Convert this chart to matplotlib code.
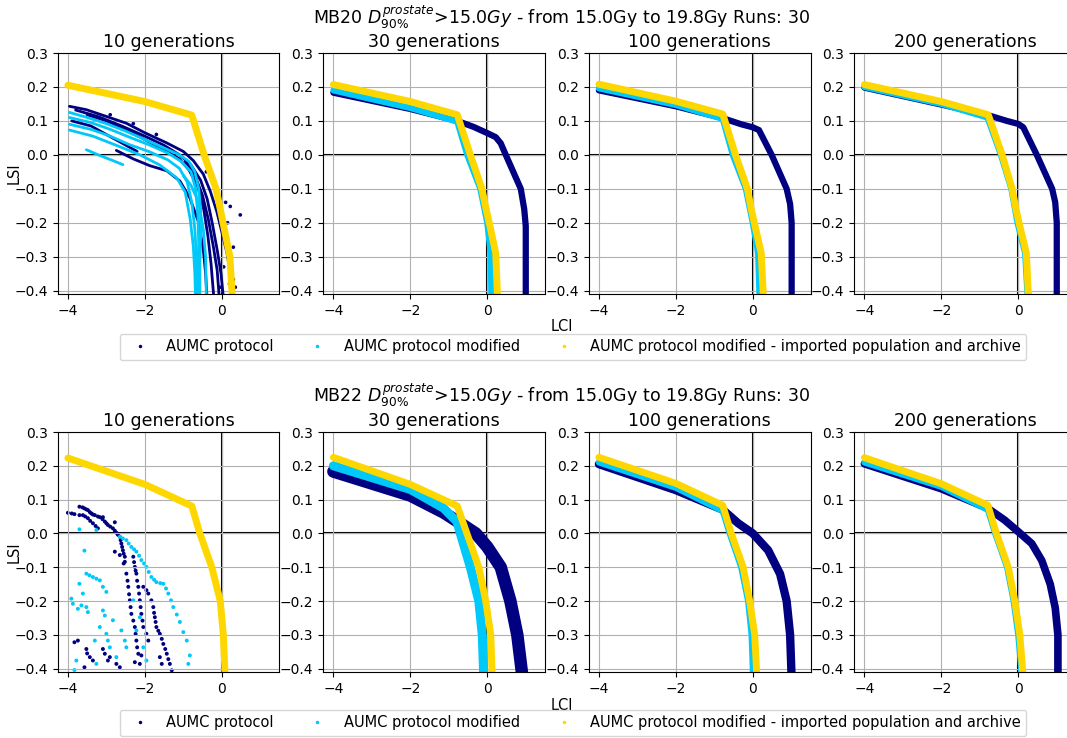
import matplotlib
matplotlib.use('Agg')
import matplotlib.pyplot as plt
from matplotlib.lines import Line2D

# Data: (LCI, LSI) points
GENERATIONS = [10, 30, 100, 200]
LABELS = ['AUMC protocol', 'AUMC protocol modified',
          'AUMC protocol modified - imported population and archive']
COLORS = ['navy', '#00c8f8', 'gold']

TITLE_MB20 = r'MB20 $D^{prostate}_{90\%}$>15.0$Gy$ - from 15.0Gy to 19.8Gy Runs: 30'
TITLE_MB22 = r'MB22 $D^{prostate}_{90\%}$>15.0$Gy$ - from 15.0Gy to 19.8Gy Runs: 30'

# --- MB20 ---
# 10 generations: the clouds are drawn as several streaks of runs
mb20_g10_aumc = [
    [(-3.96, 0.143), (-3.52, 0.133), (-3.0, 0.113), (-2.48, 0.093), (-2.0, 0.065),
     (-1.43, 0.035), (-1.0, 0.01), (-0.74, -0.017), (-0.48, -0.057), (-0.30, -0.107),
     (-0.13, -0.167), (0.0, -0.227), (0.13, -0.287), (0.22, -0.347), (0.26, -0.43)],
    [(-3.8, 0.132), (-3.2, 0.112), (-2.6, 0.085), (-2.0, 0.055), (-1.5, 0.028),
     (-1.1, 0.0), (-0.8, -0.03), (-0.55, -0.075), (-0.38, -0.13), (-0.25, -0.2),
     (-0.12, -0.28), (-0.02, -0.35), (0.05, -0.43)],
    [(-3.5, 0.118), (-3.0, 0.1), (-2.5, 0.075), (-2.0, 0.045), (-1.5, 0.015),
     (-1.1, -0.012), (-0.85, -0.045), (-0.62, -0.095), (-0.47, -0.16), (-0.36, -0.24),
     (-0.28, -0.32), (-0.2, -0.43)],
    [(-2.74, 0.013), (-2.3, -0.012), (-1.87, -0.032), (-1.43, -0.047), (-1.09, -0.077),
     (-0.83, -0.127), (-0.6, -0.2), (-0.48, -0.28), (-0.42, -0.35), (-0.38, -0.43)],
    [(-3.9, 0.1), (-3.4, 0.085), (-3.0, 0.06), (-2.6, 0.035), (-2.2, 0.01)],
    [(-0.95, -0.02), (-0.7, -0.06), (-0.5, -0.12), (-0.35, -0.19), (-0.22, -0.27),
     (-0.12, -0.34), (-0.06, -0.43)],
]
mb20_g10_aumc_dots = [(0.22, -0.152), (0.48, -0.177), (0.30, -0.272), (0.30, -0.367),
                      (0.10, -0.14), (0.15, -0.2), (0.05, -0.33), (0.2, -0.38),
                      (0.35, -0.39), (-0.05, -0.39), (0.12, -0.25), (-0.4, -0.05),
                      (-2.9, 0.118), (-2.3, 0.092), (-1.7, 0.06)]
mb20_g10_mod = [
    [(-3.96, 0.125), (-3.5, 0.11), (-3.0, 0.092), (-2.5, 0.07), (-2.0, 0.045),
     (-1.5, 0.02), (-1.1, 0.0), (-0.85, -0.02), (-0.7, -0.05), (-0.6, -0.1),
     (-0.55, -0.16), (-0.55, -0.24), (-0.57, -0.32), (-0.57, -0.43)],
    [(-3.96, 0.11), (-3.4, 0.095), (-2.9, 0.075), (-2.4, 0.052), (-1.9, 0.03),
     (-1.4, 0.005), (-1.05, -0.02), (-0.8, -0.05), (-0.68, -0.1), (-0.62, -0.18),
     (-0.6, -0.26), (-0.62, -0.34), (-0.62, -0.43)],
    [(-3.96, 0.09), (-3.4, 0.075), (-2.9, 0.055), (-2.4, 0.03), (-1.9, 0.01),
     (-1.4, -0.015), (-1.1, -0.04), (-0.9, -0.08), (-0.78, -0.14), (-0.7, -0.22),
     (-0.66, -0.3), (-0.65, -0.43)],
    [(-3.96, 0.073), (-3.35, 0.055), (-2.74, 0.028), (-2.13, 0.0), (-1.61, -0.03),
     (-1.17, -0.068), (-0.95, -0.11), (-0.82, -0.19), (-0.74, -0.27), (-0.7, -0.35),
     (-0.68, -0.43)],
    [(-3.52, 0.015), (-3.17, -0.002), (-2.83, -0.017), (-2.57, -0.029)],
    [(-1.0, -0.06), (-0.8, -0.09), (-0.6, -0.14), (-0.48, -0.22), (-0.42, -0.3),
     (-0.4, -0.43)],
]
mb20_g10_imp = [(-4.0, 0.205), (-2.0, 0.157), (-0.78, 0.117), (-0.46, 0.0), (-0.15, -0.10),
                (-0.04, -0.16), (0.05, -0.21), (0.21, -0.30), (0.28, -0.43)]

mb20_g30_aumc = [(-4.0, 0.183), (-2.0, 0.135), (-0.78, 0.100), (-0.35, 0.082), (0.0, 0.064),
                 (0.22, 0.052), (0.35, 0.034), (0.48, 0.0), (0.87, -0.10), (0.96, -0.16),
                 (1.0, -0.21), (1.0, -0.43)]
mb20_g30_mod = [(-4.0, 0.190), (-2.0, 0.138), (-0.78, 0.098), (-0.52, 0.0), (-0.18, -0.10),
                (0.0, -0.20), (0.09, -0.29), (0.11, -0.43)]
mb20_g30_imp = [(-4.0, 0.207), (-2.0, 0.157), (-0.78, 0.118), (-0.44, 0.0), (-0.14, -0.10),
                (-0.03, -0.16), (0.07, -0.21), (0.22, -0.29), (0.27, -0.43)]

mb20_g100_aumc = [(-4.0, 0.19), (-2.0, 0.143), (-0.78, 0.108), (-0.3, 0.09), (0.0, 0.081),
                  (0.16, 0.073), (0.49, 0.0), (0.88, -0.10), (0.97, -0.145), (1.01, -0.2),
                  (1.01, -0.43)]
mb20_g100_mod = [(-4.0, 0.196), (-2.0, 0.147), (-0.78, 0.106), (-0.52, 0.0), (-0.18, -0.10),
                 (0.0, -0.20), (0.14, -0.29), (0.18, -0.43)]
mb20_g100_imp = [(-4.0, 0.208), (-2.0, 0.158), (-0.78, 0.12), (-0.45, 0.0), (-0.14, -0.10),
                 (-0.04, -0.16), (0.06, -0.21), (0.22, -0.29), (0.28, -0.43)]

mb20_g200_aumc = [(-4.0, 0.198), (-2.0, 0.148), (-0.76, 0.116), (-0.3, 0.1), (0.0, 0.091),
                  (0.13, 0.081), (0.48, 0.0), (0.88, -0.10), (0.96, -0.14), (1.0, -0.2),
                  (1.0, -0.43)]
mb20_g200_mod = [(-4.0, 0.200), (-2.0, 0.150), (-0.8, 0.110), (-0.45, 0.0), (-0.18, -0.10),
                 (-0.02, -0.20), (0.18, -0.29), (0.25, -0.43)]
mb20_g200_imp = [(-4.0, 0.207), (-2.0, 0.157), (-0.78, 0.118), (-0.42, 0.0), (-0.16, -0.10),
                 (-0.06, -0.16), (0.04, -0.21), (0.21, -0.29), (0.27, -0.43)]

# --- MB22 ---
mb22_g10_aumc_dots = [
    (-4.0, 0.061), (-3.9, 0.059), (-3.83, 0.057), (-3.70, 0.054),
    (-3.70, 0.079), (-3.62, 0.077), (-3.57, 0.074), (-3.52, 0.071), (-3.48, 0.069),
    (-3.43, 0.063), (-3.39, 0.059), (-3.35, 0.056), (-3.30, 0.054), (-3.22, 0.05),
    (-3.17, 0.048), (-3.1, 0.042), (-3.04, 0.035), (-3.0, 0.03), (-2.96, 0.025),
    (-2.9, 0.02), (-2.83, 0.015), (-2.78, 0.008), (-2.74, 0.002), (-2.7, -0.004),
    (-2.65, -0.01), (-2.63, -0.02), (-2.61, -0.03), (-2.59, -0.04), (-2.57, -0.05),
    (-2.55, -0.06), (-2.52, -0.069), (-2.55, -0.089),
    (-3.61, 0.054), (-3.55, 0.05), (-3.48, 0.045), (-3.42, 0.037), (-3.35, 0.03),
    (-3.28, 0.022), (-3.22, 0.015), (-3.09, 0.048), (-2.78, 0.033),
    (-2.48, -0.119), (-2.45, -0.14), (-2.43, -0.158), (-2.41, -0.18), (-2.39, -0.198),
    (-2.37, -0.218), (-2.35, -0.238), (-2.3, -0.258), (-2.26, -0.277), (-2.24, -0.297),
    (-2.22, -0.317), (-2.2, -0.337), (-2.17, -0.356), (-2.13, -0.386),
    (-2.30, -0.069), (-2.28, -0.085), (-2.26, -0.099), (-2.24, -0.11), (-2.22, -0.119),
    (-2.2, -0.14), (-2.17, -0.158), (-2.15, -0.178), (-2.13, -0.198), (-2.11, -0.218),
    (-2.09, -0.238), (-2.06, -0.258), (-2.04, -0.277),
    (-2.04, -0.158), (-1.96, -0.168), (-1.91, -0.178), (-1.83, -0.198), (-1.78, -0.218),
    (-1.76, -0.235), (-1.74, -0.248), (-1.72, -0.262), (-1.70, -0.277), (-1.65, -0.288),
    (-1.61, -0.297), (-1.56, -0.312), (-1.52, -0.327), (-1.47, -0.342), (-1.43, -0.356),
    (-1.39, -0.372), (-1.35, -0.386), (-1.30, -0.405),
    (-3.83, -0.322), (-3.74, -0.317), (-3.52, -0.342), (-3.5, -0.355), (-3.43, -0.366),
    (-3.35, -0.376), (-3.57, -0.396), (-3.09, -0.342), (-3.04, -0.356), (-2.96, -0.376),
    (-2.91, -0.366), (-2.74, -0.386), (-2.65, -0.396), (-2.26, -0.381), (-2.09, -0.361),
    (-1.91, -0.317), (-1.61, -0.366), (-1.56, -0.386), (-1.96, -0.297),
    (-2.78, -0.054), (-2.65, -0.064), (-2.52, -0.084),
]
mb22_g10_mod_dots = [
    (-3.70, 0.012), (-3.26, 0.01), (-3.57, -0.051),
    (-3.52, -0.119), (-3.44, -0.124), (-3.35, -0.129), (-3.26, -0.134), (-3.17, -0.139),
    (-3.09, -0.158), (-3.0, -0.173),
    (-3.70, -0.149), (-3.61, -0.178), (-3.91, -0.193), (-3.87, -0.208), (-3.74, -0.223),
    (-3.65, -0.213), (-3.52, -0.218), (-3.48, -0.233), (-3.09, -0.228), (-3.04, -0.243),
    (-2.83, -0.257), (-3.17, -0.277), (-3.0, -0.297), (-2.96, -0.317), (-2.91, -0.337),
    (-2.74, -0.366), (-3.30, -0.317), (-3.26, -0.386), (-3.78, -0.376), (-3.83, -0.404),
    (-2.61, -0.287), (-2.52, -0.317), (-2.48, -0.337),
    (-2.65, -0.01), (-2.57, -0.015), (-2.48, -0.02), (-2.42, -0.03), (-2.35, -0.04),
    (-2.28, -0.047), (-2.22, -0.054), (-2.15, -0.066), (-2.09, -0.079), (-2.02, -0.089),
    (-1.96, -0.099), (-1.9, -0.114), (-1.83, -0.129), (-1.76, -0.137), (-1.70, -0.144),
    (-1.6, -0.147), (-1.52, -0.149), (-1.45, -0.163), (-1.39, -0.178), (-1.32, -0.198),
    (-1.26, -0.218), (-1.17, -0.24), (-1.09, -0.262), (-1.0, -0.292), (-0.91, -0.317),
    (-0.83, -0.361), (-0.87, -0.386),
    (-2.30, -0.198), (-2.13, -0.248), (-2.22, -0.287), (-2.04, -0.337), (-1.96, -0.376),
]
mb22_g10_imp = [(-4.0, 0.223), (-2.0, 0.145), (-0.78, 0.081), (-0.57, 0.0), (-0.26, -0.10),
                (-0.04, -0.20), (0.04, -0.30), (0.09, -0.43)]

mb22_g30_aumc = [(-4.0, 0.183), (-2.0, 0.112), (-1.14, 0.062), (-0.7, 0.03), (-0.3, 0.0),
                 (0.0, -0.04), (0.35, -0.10), (0.60, -0.20), (0.78, -0.30), (0.92, -0.43)]
mb22_g30_mod = [(-4.0, 0.200), (-2.0, 0.130), (-1.14, 0.075), (-0.79, 0.035), (-0.70, 0.0),
                (-0.44, -0.10), (-0.22, -0.20), (-0.13, -0.30), (-0.09, -0.43)]
mb22_g30_imp = [(-4.0, 0.225), (-2.0, 0.145), (-0.78, 0.081), (-0.53, 0.0), (-0.22, -0.10),
                (-0.04, -0.20), (0.09, -0.30), (0.13, -0.43)]

mb22_g100_aumc = [(-4.0, 0.205), (-2.0, 0.128), (-0.78, 0.07), (-0.38, 0.03), (0.0, 0.0),
                  (0.4, -0.05), (0.71, -0.12), (0.88, -0.20), (0.97, -0.30), (1.01, -0.43)]
mb22_g100_mod = [(-4.0, 0.21), (-2.0, 0.135), (-0.78, 0.066), (-0.6, 0.0), (-0.3, -0.10),
                 (-0.12, -0.20), (-0.03, -0.30), (0.01, -0.43)]
mb22_g100_imp = [(-4.0, 0.225), (-2.0, 0.148), (-0.78, 0.083), (-0.56, 0.0), (-0.25, -0.10),
                 (-0.08, -0.20), (0.05, -0.30), (0.11, -0.43)]

mb22_g200_aumc = [(-4.0, 0.206), (-2.0, 0.132), (-0.79, 0.074), (-0.35, 0.039), (0.0, 0.005),
                  (0.35, -0.03), (0.61, -0.08), (0.83, -0.15), (0.96, -0.22), (1.03, -0.30),
                  (1.03, -0.43)]
mb22_g200_mod = [(-4.0, 0.21), (-2.0, 0.138), (-0.79, 0.07), (-0.6, 0.0), (-0.29, -0.10),
                 (-0.12, -0.20), (0.0, -0.30), (0.1, -0.43)]
mb22_g200_imp = [(-4.0, 0.224), (-2.0, 0.147), (-0.79, 0.083), (-0.57, 0.0), (-0.26, -0.10),
                 (-0.09, -0.20), (0.04, -0.30), (0.13, -0.43)]

W, H = 1067, 738
AX_LEFT = [57.5, 323, 588.5, 854]
AX_W = 222


def curve(ax, pts, color, lw):
    xs = [p[0] for p in pts]
    ys = [p[1] for p in pts]
    ax.plot(xs, ys, color=color, lw=lw, solid_capstyle='round', solid_joinstyle='round')


def dots(ax, pts, color, s=5):
    xs = [p[0] for p in pts]
    ys = [p[1] for p in pts]
    ax.scatter(xs, ys, color=color, s=s, edgecolor='none')


def make_row(fig, top_px, bottom_px):
    axes = []
    for i, g in enumerate(GENERATIONS):
        ax = fig.add_axes([AX_LEFT[i] / W, 1 - bottom_px / H, AX_W / W,
                           (bottom_px - top_px) / H])
        ax.set_xlim(-4.27, 1.5)
        ax.set_ylim(-0.41, 0.3)
        ax.set_xticks([-4, -2, 0])
        ax.set_yticks([-0.4, -0.3, -0.2, -0.1, 0.0, 0.1, 0.2, 0.3])
        ax.grid(True)
        ax.axhline(0, color='black', lw=1.5, zorder=1)
        ax.axvline(0, color='black', lw=1.5, zorder=1)
        ax.set_title(f'{g} generations', fontsize=12.5, pad=4)
        ax.tick_params(labelsize=10)
        axes.append(ax)
    axes[0].set_ylabel('LSI', fontsize=10.5)
    axes[0].yaxis.set_label_coords(-0.16, 0.5)
    return axes


def add_legend(fig, y_px):
    handles = [Line2D([], [], marker='.', ls='', color=c, markersize=3) for c in COLORS]
    fig.legend(handles, LABELS, loc='center', ncol=3, fontsize=10.5,
               bbox_to_anchor=(573 / W, 1 - y_px / H))


fig = plt.figure(figsize=(W / 100, H / 100), dpi=100)

# row 1: MB20
ax1 = make_row(fig, 53, 294)
for streak in mb20_g10_aumc:
    curve(ax1[0], streak, COLORS[0], 2.0)
dots(ax1[0], mb20_g10_aumc_dots, COLORS[0], 7)
for streak in mb20_g10_mod:
    curve(ax1[0], streak, COLORS[1], 2.0)
curve(ax1[0], mb20_g10_imp, COLORS[2], 5)

row1 = [(mb20_g30_aumc, mb20_g30_mod, mb20_g30_imp),
        (mb20_g100_aumc, mb20_g100_mod, mb20_g100_imp),
        (mb20_g200_aumc, mb20_g200_mod, mb20_g200_imp)]
for ax, (a, m, imp) in zip(ax1[1:], row1):
    curve(ax, a, COLORS[0], 4.5)
    curve(ax, m, COLORS[1], 4.5)
    curve(ax, imp, COLORS[2], 5)

# row 2: MB22
ax2 = make_row(fig, 432, 672)
dots(ax2[0], mb22_g10_aumc_dots, COLORS[0], 8)
dots(ax2[0], mb22_g10_mod_dots, COLORS[1], 8)
curve(ax2[0], mb22_g10_imp, COLORS[2], 5)

row2 = [(mb22_g30_aumc, mb22_g30_mod, mb22_g30_imp, 9, 6.5),
        (mb22_g100_aumc, mb22_g100_mod, mb22_g100_imp, 6, 4.5),
        (mb22_g200_aumc, mb22_g200_mod, mb22_g200_imp, 5.5, 4.5)]
for ax, (a, m, imp, lwa, lwm) in zip(ax2[1:], row2):
    curve(ax, a, COLORS[0], lwa)
    curve(ax, m, COLORS[1], lwm)
    curve(ax, imp, COLORS[2], 5)

fig.text(562 / W, 1 - 17 / H, TITLE_MB20, ha='center', va='center', fontsize=12.5)
fig.text(562 / W, 1 - 395 / H, TITLE_MB22, ha='center', va='center', fontsize=12.5)
fig.text(562 / W, 1 - 326 / H, 'LCI', ha='center', va='center', fontsize=10.5)
fig.text(562 / W, 1 - 705 / H, 'LCI', ha='center', va='center', fontsize=10.5)
add_legend(fig, 347)
add_legend(fig, 723)

fig.savefig('out.png', dpi=100)
